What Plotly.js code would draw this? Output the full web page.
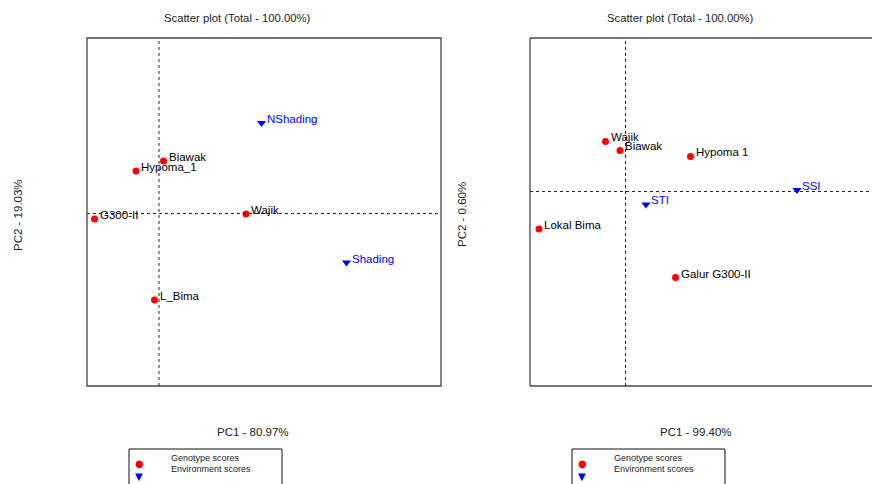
<!DOCTYPE html>
<html>
<head>
<meta charset="utf-8">
<script src="https://cdn.plot.ly/plotly-3.0.1.min.js"></script>
<style>html,body{margin:0;padding:0;background:#fff;}#chart{width:872px;height:484px;}</style>
</head>
<body>
<div id="chart"></div>
<script>
// ---- Data (PCA biplot scores) ----
const leftTitle = 'Scatter plot (Total - 100.00%)';
const leftXTitle = 'PC1 - 80.97%';
const leftYTitle = 'PC2 - 19.03%';
const leftGenoNames = ['Biawak', 'Hypoma_1', 'G300-II', 'Wajik', 'L_Bima'];
const leftGenoPC1 = [0.09, -0.46, -1.29, 1.74, -0.09];
const leftGenoPC2 = [1.05, 0.85, -0.11, -0.01, -1.73];
const leftEnvNames = ['NShading', 'Shading'];
const leftEnvPC1 = [2.05, 3.75];
const leftEnvPC2 = [1.81, -0.98];

const rightTitle = 'Scatter plot (Total - 100.00%)';
const rightXTitle = 'PC1 - 99.40%';
const rightYTitle = 'PC2 - 0.60%';
const rightGenoNames = ['Wajik', 'Biawak', 'Hypoma 1', 'Lokal Bima', 'Galur G300-II'];
const rightGenoPC1 = [-0.40, -0.11, 1.30, -1.73, 1.00];
const rightGenoPC2 = [1.00, 0.82, 0.70, -0.75, -1.72];
const rightEnvNames = ['SSI', 'STI'];
const rightEnvPC1 = [3.43, 0.41];
const rightEnvPC2 = [0.03, -0.26];

const legendLabels = ['Genotype scores', 'Environment scores'];

// ---- Styles ----
const FONT = 'Liberation Sans, Arial, sans-serif';
const RED = '#ff0000', BLUE = '#0000ff', BOX = '#444444';
const W = 872, H = 484;
const px = v => v / W;
const py = v => 1 - v / H;

function pts(x, y, names, xa, ya, color, symbol, size) {
  return {
    type: 'scatter', mode: 'markers', x: x, y: y, text: names,
    xaxis: xa, yaxis: ya, hoverinfo: 'text', showlegend: false,
    marker: {color: color, symbol: symbol, size: size, line: {width: 0}}
  };
}
function labels(x, y, names, xa, ya, color) {
  return names.map((n, i) => ({
    x: x[i], y: y[i], xref: xa, yref: ya, text: n, showarrow: false,
    xanchor: 'left', yanchor: 'middle', xshift: 3, yshift: 4,
    font: {family: FONT, size: 11.5, color: color}
  }));
}

const traces = [
  pts(leftGenoPC1, leftGenoPC2, leftGenoNames, 'x', 'y', RED, 'circle', 7),
  pts(leftEnvPC1, leftEnvPC2, leftEnvNames, 'x', 'y', BLUE, 'triangle-down', 8),
  pts(rightGenoPC1, rightGenoPC2, rightGenoNames, 'x2', 'y2', RED, 'circle', 7),
  pts(rightEnvPC1, rightEnvPC2, rightEnvNames, 'x2', 'y2', BLUE, 'triangle-down', 8)
];

const dash = {color: '#222', width: 1, dash: '3px,3px'};
const shapes = [
  // zero reference lines
  {type: 'line', xref: 'x', yref: 'y domain', x0: 0, x1: 0, y0: 0, y1: 1, line: dash},
  {type: 'line', xref: 'x domain', yref: 'y', x0: 0, x1: 1, y0: 0, y1: 0, line: dash},
  {type: 'line', xref: 'x2', yref: 'y2 domain', x0: 0, x1: 0, y0: 0, y1: 1, line: dash},
  {type: 'line', xref: 'x2 domain', yref: 'y2', x0: 0, x1: 1, y0: 0, y1: 0, line: dash},
  // left box
  {type: 'rect', xref: 'x domain', yref: 'y domain', x0: 0, x1: 1, y0: 0, y1: 1, line: {color: BOX, width: 1.3}},
  // right box (right side cut off)
  {type: 'line', xref: 'x2 domain', yref: 'y2 domain', x0: 0, x1: 0, y0: 0, y1: 1, line: {color: BOX, width: 1.3}},
  {type: 'line', xref: 'x2 domain', yref: 'y2 domain', x0: 0, x1: 1.02, y0: 1, y1: 1, line: {color: BOX, width: 1.3}},
  {type: 'line', xref: 'x2 domain', yref: 'y2 domain', x0: 0, x1: 1.02, y0: 0, y1: 0, line: {color: BOX, width: 1.3}},
  // legend boxes
  {type: 'rect', xref: 'paper', yref: 'paper', x0: px(129), x1: px(282), y0: py(449), y1: py(500), line: {color: '#111', width: 1}},
  {type: 'rect', xref: 'paper', yref: 'paper', x0: px(572), x1: px(725), y0: py(449), y1: py(500), line: {color: '#111', width: 1}}
];

function txt(x, y, t, size, extra) {
  return Object.assign({x: px(x), y: py(y), xref: 'paper', yref: 'paper', text: t, showarrow: false,
    xanchor: 'center', yanchor: 'middle', font: {family: FONT, size: size, color: '#222'}}, extra || {});
}
function legendAnn(x0) {
  return [
    txt(x0 + 10, 463, '●', 10, {font: {family: 'DejaVu Sans', size: 10, color: RED}}),
    txt(x0 + 10, 476, '▼', 10, {font: {family: 'DejaVu Sans', size: 10, color: BLUE}}),
    txt(x0 + 40, 457.5, legendLabels[0], 9, {xanchor: 'left'}),
    txt(x0 + 40, 469, legendLabels[1], 9, {xanchor: 'left'})
  ];
}

const annotations = [].concat(
  labels(leftGenoPC1, leftGenoPC2, leftGenoNames, 'x', 'y', '#000'),
  labels(leftEnvPC1, leftEnvPC2, leftEnvNames, 'x', 'y', BLUE),
  labels(rightGenoPC1, rightGenoPC2, rightGenoNames, 'x2', 'y2', '#000'),
  labels(rightEnvPC1, rightEnvPC2, rightEnvNames, 'x2', 'y2', BLUE),
  [
    txt(238, 18, leftTitle, 11.3),
    txt(680, 18, rightTitle, 11.3),
    txt(253, 432, leftXTitle, 11.5),
    txt(696, 432, rightXTitle, 11.5),
    txt(18, 215, leftYTitle, 11.5, {textangle: -90}),
    txt(462, 215, rightYTitle, 11.5, {textangle: -90})
  ],
  legendAnn(129),
  legendAnn(572)
);

const axisBase = {showgrid: false, zeroline: false, showticklabels: false, ticks: '', showline: false, fixedrange: true};
const layout = {
  width: W, height: H,
  margin: {l: 0, r: 0, t: 0, b: 0},
  paper_bgcolor: '#fff', plot_bgcolor: '#fff',
  showlegend: false,
  xaxis: Object.assign({}, axisBase, {domain: [px(87), px(441)], range: [-1.44, 5.64], anchor: 'y'}),
  yaxis: Object.assign({}, axisBase, {domain: [py(386), py(38)], range: [-3.45, 3.51], anchor: 'x'}),
  xaxis2: Object.assign({}, axisBase, {domain: [px(530), 1], range: [-1.91, 4.93], anchor: 'y2'}),
  yaxis2: Object.assign({}, axisBase, {domain: [py(386), py(38)], range: [-3.89, 3.07], anchor: 'x2'}),
  shapes: shapes,
  annotations: annotations
};

Plotly.newPlot('chart', traces, layout, {displayModeBar: false, staticPlot: true});
</script>
</body>
</html>
